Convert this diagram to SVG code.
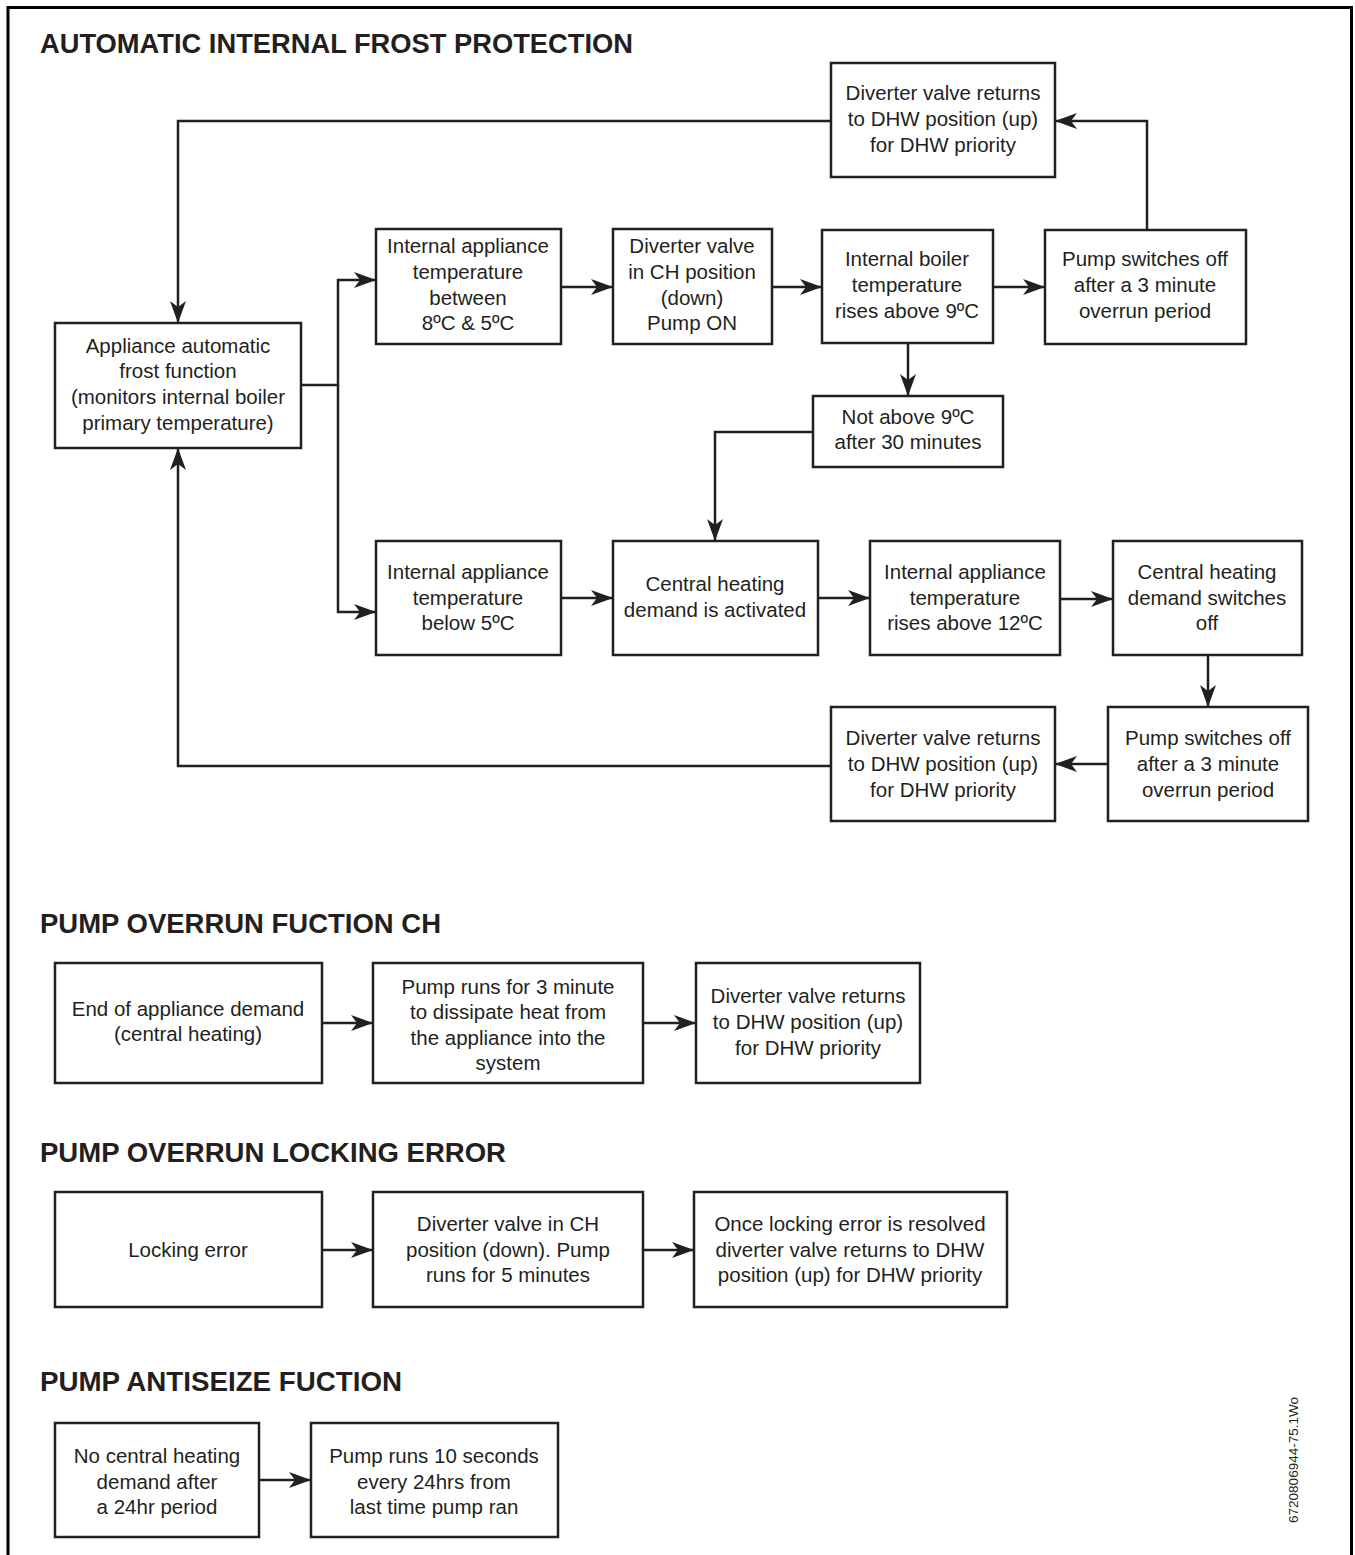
<svg xmlns="http://www.w3.org/2000/svg" width="1355" height="1555" viewBox="0 0 1355 1555">
<style>
.bg{fill:#ffffff}
.frame{fill:none;stroke:#000;stroke-width:3}
.box{fill:#fff;stroke:#231f20;stroke-width:2.5}
.t{font-family:"Liberation Sans",Arial,sans-serif;font-size:20.5px;fill:#231f20;text-anchor:middle}
.h{font-family:"Liberation Sans",Arial,sans-serif;font-size:27px;font-weight:bold;fill:#231f20}
.c{fill:none;stroke:#231f20;stroke-width:2.5}
.a{marker-end:url(#arr)}
.code{font-family:"Liberation Sans",Arial,sans-serif;font-size:13.5px;fill:#231f20;text-anchor:middle}
</style>
<defs>
<marker id="arr" markerUnits="userSpaceOnUse" markerWidth="24" markerHeight="16" refX="22" refY="8" orient="auto">
<path d="M0,0 L22,8 L0,16 L6,8 Z" fill="#231f20"/>
</marker>
</defs>
<rect class="bg" x="0" y="0" width="1355" height="1555"/>
<path class="frame" d="M8,1560 V7.5 H1351.5 V1560"/>

<text class="h" x="40" y="53" textLength="593" lengthAdjust="spacingAndGlyphs">AUTOMATIC INTERNAL FROST PROTECTION</text>
<text class="h" x="40" y="933" textLength="401" lengthAdjust="spacingAndGlyphs">PUMP OVERRUN FUCTION CH</text>
<text class="h" x="40" y="1162" textLength="466" lengthAdjust="spacingAndGlyphs">PUMP OVERRUN LOCKING ERROR</text>
<text class="h" x="40" y="1391" textLength="362" lengthAdjust="spacingAndGlyphs">PUMP ANTISEIZE FUCTION</text>

<g id="connectors">
<path class="c a" d="M831,121 H178 V323"/>
<path class="c a" d="M1147,230 V121 H1055"/>
<path class="c a" d="M301,385 H338 V280 H376"/>
<path class="c a" d="M338,385 V612 H376"/>
<path class="c a" d="M561,287 H613"/>
<path class="c a" d="M772,287 H822"/>
<path class="c a" d="M993,287 H1045"/>
<path class="c a" d="M908,343 V396"/>
<path class="c a" d="M813,432 H715 V541"/>
<path class="c a" d="M561,598 H613"/>
<path class="c a" d="M818,598 H870"/>
<path class="c a" d="M1060,599 H1113"/>
<path class="c a" d="M1208,655 V707"/>
<path class="c a" d="M1108,764 H1055"/>
<path class="c a" d="M831,766 H178 V448"/>
<path class="c a" d="M322,1023 H373"/>
<path class="c a" d="M643,1023 H696"/>
<path class="c a" d="M322,1250 H373"/>
<path class="c a" d="M643,1250 H694"/>
<path class="c a" d="M259,1480 H311"/>
</g>

<g id="n-dv-top">
<rect class="box" x="831" y="63" width="224" height="114"/>
<text class="t" x="943" y="100">Diverter valve returns</text>
<text class="t" x="943" y="126">to DHW position (up)</text>
<text class="t" x="943" y="152">for DHW priority</text>
</g>
<g id="n-frost">
<rect class="box" x="55" y="323" width="246" height="125"/>
<text class="t" x="178" y="353">Appliance automatic</text>
<text class="t" x="178" y="378">frost function</text>
<text class="t" x="178" y="404">(monitors internal boiler</text>
<text class="t" x="178" y="430">primary temperature)</text>
</g>
<g id="n-between">
<rect class="box" x="376" y="229" width="185" height="115"/>
<text class="t" x="468" y="253">Internal appliance</text>
<text class="t" x="468" y="279">temperature</text>
<text class="t" x="468" y="305">between</text>
<text class="t" x="468" y="330">8ºC &amp; 5ºC</text>
</g>
<g id="n-dv-ch">
<rect class="box" x="613" y="229" width="159" height="115"/>
<text class="t" x="692" y="253">Diverter valve</text>
<text class="t" x="692" y="279">in CH position</text>
<text class="t" x="692" y="305">(down)</text>
<text class="t" x="692" y="330">Pump ON</text>
</g>
<g id="n-boiler9">
<rect class="box" x="822" y="230" width="171" height="113"/>
<text class="t" x="907" y="266">Internal boiler</text>
<text class="t" x="907" y="292">temperature</text>
<text class="t" x="907" y="318">rises above 9ºC</text>
</g>
<g id="n-pump-top">
<rect class="box" x="1045" y="230" width="201" height="114"/>
<text class="t" x="1145" y="266">Pump switches off</text>
<text class="t" x="1145" y="292">after a 3 minute</text>
<text class="t" x="1145" y="318">overrun period</text>
</g>
<g id="n-not9">
<rect class="box" x="813" y="396" width="190" height="71"/>
<text class="t" x="908" y="424">Not above 9ºC</text>
<text class="t" x="908" y="449">after 30 minutes</text>
</g>
<g id="n-below5">
<rect class="box" x="376" y="541" width="185" height="114"/>
<text class="t" x="468" y="579">Internal appliance</text>
<text class="t" x="468" y="605">temperature</text>
<text class="t" x="468" y="630">below 5ºC</text>
</g>
<g id="n-chd">
<rect class="box" x="613" y="541" width="205" height="114"/>
<text class="t" x="715" y="591">Central heating</text>
<text class="t" x="715" y="617">demand is activated</text>
</g>
<g id="n-rise12">
<rect class="box" x="870" y="541" width="190" height="114"/>
<text class="t" x="965" y="579">Internal appliance</text>
<text class="t" x="965" y="605">temperature</text>
<text class="t" x="965" y="630">rises above 12ºC</text>
</g>
<g id="n-chd-off">
<rect class="box" x="1113" y="541" width="189" height="114"/>
<text class="t" x="1207" y="579">Central heating</text>
<text class="t" x="1207" y="605">demand switches</text>
<text class="t" x="1207" y="630">off</text>
</g>
<g id="n-pump-bot">
<rect class="box" x="1108" y="707" width="200" height="114"/>
<text class="t" x="1208" y="745">Pump switches off</text>
<text class="t" x="1208" y="771">after a 3 minute</text>
<text class="t" x="1208" y="797">overrun period</text>
</g>
<g id="n-dv-bot">
<rect class="box" x="831" y="707" width="224" height="114"/>
<text class="t" x="943" y="745">Diverter valve returns</text>
<text class="t" x="943" y="771">to DHW position (up)</text>
<text class="t" x="943" y="797">for DHW priority</text>
</g>

<g id="n-end-demand">
<rect class="box" x="55" y="963" width="267" height="120"/>
<text class="t" x="188" y="1016">End of appliance demand</text>
<text class="t" x="188" y="1041">(central heating)</text>
</g>
<g id="n-pump3">
<rect class="box" x="373" y="963" width="270" height="120"/>
<text class="t" x="508" y="994">Pump runs for 3 minute</text>
<text class="t" x="508" y="1019">to dissipate heat from</text>
<text class="t" x="508" y="1045">the appliance into the</text>
<text class="t" x="508" y="1070">system</text>
</g>
<g id="n-dv-3">
<rect class="box" x="696" y="963" width="224" height="120"/>
<text class="t" x="808" y="1003">Diverter valve returns</text>
<text class="t" x="808" y="1029">to DHW position (up)</text>
<text class="t" x="808" y="1055">for DHW priority</text>
</g>

<g id="n-lock">
<rect class="box" x="55" y="1192" width="267" height="115"/>
<text class="t" x="188" y="1257">Locking error</text>
</g>
<g id="n-dv-lock">
<rect class="box" x="373" y="1192" width="270" height="115"/>
<text class="t" x="508" y="1231">Diverter valve in CH</text>
<text class="t" x="508" y="1257">position (down). Pump</text>
<text class="t" x="508" y="1282">runs for 5 minutes</text>
</g>
<g id="n-resolved">
<rect class="box" x="694" y="1192" width="313" height="115"/>
<text class="t" x="850" y="1231">Once locking error is resolved</text>
<text class="t" x="850" y="1257">diverter valve returns to DHW</text>
<text class="t" x="850" y="1282">position (up) for DHW priority</text>
</g>

<g id="n-nodemand">
<rect class="box" x="55" y="1423" width="204" height="114"/>
<text class="t" x="157" y="1463">No central heating</text>
<text class="t" x="157" y="1489">demand after</text>
<text class="t" x="157" y="1514">a 24hr period</text>
</g>
<g id="n-pump10">
<rect class="box" x="311" y="1423" width="247" height="114"/>
<text class="t" x="434" y="1463">Pump runs 10 seconds</text>
<text class="t" x="434" y="1489">every 24hrs from</text>
<text class="t" x="434" y="1514">last time pump ran</text>
</g>

<text class="code" transform="translate(1298,1460) rotate(-90)">6720806944-75.1Wo</text>
</svg>
